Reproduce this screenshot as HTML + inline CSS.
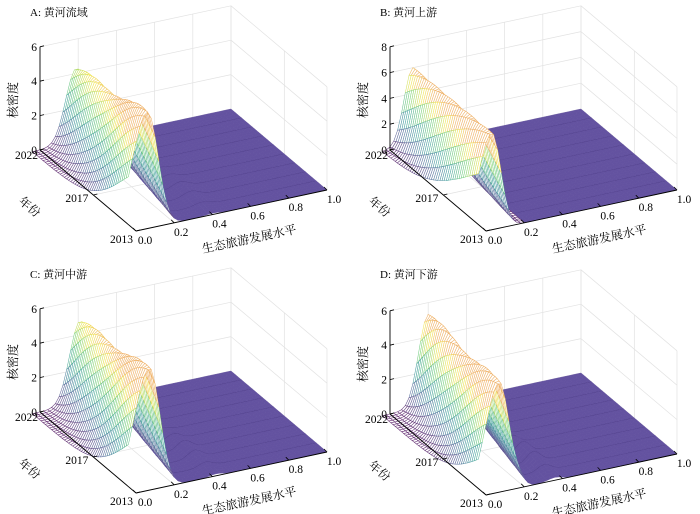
<!DOCTYPE html>
<html><head><meta charset="utf-8">
<style>
html,body{margin:0;padding:0;background:#fff;}
svg{display:block;font-family:"Liberation Serif","Noto Serif CJK SC",serif;}
</style></head>
<body>
<svg id="s" width="700" height="514" viewBox="0 0 700 514" xmlns="http://www.w3.org/2000/svg"></svg>
<script>
const S=document.getElementById('s');
let out='';
const VS=[[0,[68,1,84]],[0.22,[59,82,139]],[0.45,[33,145,140]],[0.68,[94,201,98]],[0.88,[240,225,50]],[1,[235,160,70]]];
function vir(v){v=Math.max(0,Math.min(1,v));for(let i=0;i<VS.length-1;i++){const a=VS[i],b=VS[i+1];if(v<=b[0]){const f=(v-a[0])/(b[0]-a[0]);const c=a[1].map((q,k)=>q+(b[1][k]-q)*f);const w=0.2;return 'rgb('+c.map(q=>Math.round(q*(1-w)+255*w)).join(',')+')';}}return 'rgb(235,160,70)';}
const panels=[
 {dx:0,oy:150,ty:12,title:'A: 黄河流域',zs:17.2,zt:[0,2,4,6],mu0:.19,pk0:4.3,mu1:.06,pk1:6.7,s:.055,bx:.4,bh:.35,bs:.04,rip:.03,r2:0},
 {dx:350,oy:150,ty:12,title:'B: 黄河上游',zs:12.9,zt:[0,2,4,6,8],mu0:.12,pk0:6.0,mu1:.03,pk1:7.5,s:.047,bx:.4,bh:0,bs:.04,rip:.0,r2:0},
 {dx:0,oy:412,ty:274,title:'C: 黄河中游',zs:17.2,zt:[0,2,4,6],mu0:.21,pk0:4.8,mu1:.07,pk1:7.0,s:.055,bx:.42,bh:.5,bs:.035,rip:.03,r2:0},
 {dx:350,oy:414,ty:274,title:'D: 黄河下游',zs:17.2,zt:[0,2,4,6],mu0:.2,pk0:5.3,mu1:.07,pk1:6.3,s:.05,bx:.36,bh:.7,bs:.035,rip:.03,r2:1.2}
];
function f(x,t,p){
 const mu=p.mu0+(p.mu1-p.mu0)*t;
 let pk=(p.pk0+(p.pk1-p.pk0)*t)*(1+p.rip*Math.sin(t*9));
 const s=x<mu?p.s*(1+0.5*t):p.s;
 let z=pk*Math.exp(-(x-mu)*(x-mu)/(2*s*s));
 if(p.r2) z+=p.r2*(1-t*0.6)*Math.exp(-(x-(mu+0.1))*(x-(mu+0.1))/(2*0.03*0.03));
 z+=p.bh*Math.exp(-(x-p.bx)*(x-p.bx)/(2*p.bs*p.bs))*(0.6+0.4*Math.cos(t*9));
 return z;
}
panels.forEach(p=>{
 const ox=40+p.dx, oy=p.oy, zs=p.zs, ztop=p.zt[p.zt.length-1];
 const P=(x,t,z)=>[ox+191*x+96*t, oy-41*x+81*t-zs*z];
 const pt=a=>a[0].toFixed(1)+','+a[1].toFixed(1);
 const g='#e2e2e2';
 for(const x of [0,.2,.4,.6,.8,1]) out+=`<line x1="${P(x,0,0)[0]}" y1="${P(x,0,0)[1]}" x2="${P(x,0,ztop)[0]}" y2="${P(x,0,ztop)[1]}" stroke="${g}" stroke-width="0.7"/>`;
 for(const z of p.zt) out+=`<line x1="${P(0,0,z)[0]}" y1="${P(0,0,z)[1]}" x2="${P(1,0,z)[0]}" y2="${P(1,0,z)[1]}" stroke="${g}" stroke-width="0.7"/>`;
 for(const t of [0,5/9,1]) out+=`<line x1="${P(1,t,0)[0]}" y1="${P(1,t,0)[1]}" x2="${P(1,t,ztop)[0]}" y2="${P(1,t,ztop)[1]}" stroke="${g}" stroke-width="0.7"/>`;
 for(const z of p.zt) out+=`<line x1="${P(1,0,z)[0]}" y1="${P(1,0,z)[1]}" x2="${P(1,1,z)[0]}" y2="${P(1,1,z)[1]}" stroke="${g}" stroke-width="0.7"/>`;
 for(const x of [.2,.4,.6,.8]) out+=`<line x1="${P(x,0,0)[0]}" y1="${P(x,0,0)[1]}" x2="${P(x,1,0)[0]}" y2="${P(x,1,0)[1]}" stroke="${g}" stroke-width="0.7"/>`;
 out+=`<line x1="${P(0,5/9,0)[0]}" y1="${P(0,5/9,0)[1]}" x2="${P(1,5/9,0)[0]}" y2="${P(1,5/9,0)[1]}" stroke="${g}" stroke-width="0.7"/>`;
 const NX=52, NT=45, x0=-0.04, x1=1.0;
 const Z=[];let zmax=0;
 for(let j=0;j<=NT;j++){Z[j]=[];for(let i=0;i<=NX;i++){const x=x0+(x1-x0)*i/NX;const z=f(x,j/NT,p);Z[j][i]=z;if(z>zmax)zmax=z;}}
 const quads=[];
 for(let j=0;j<NT;j++)for(let i=0;i<NX;i++){
  const xa=x0+(x1-x0)*i/NX, xb=x0+(x1-x0)*(i+1)/NX, ta=j/NT, tb=(j+1)/NT;
  const key=oy-41*(xa+xb)/2+81*(ta+tb)/2;
  quads.push([key,i,j,xa,xb,ta,tb]);
 }
 quads.sort((a,b)=>a[0]-b[0]);
 for(const q of quads){
  const [k,i,j,xa,xb,ta,tb]=q;
  const za=Z[j][i],zb=Z[j][i+1],zc=Z[j+1][i+1],zd=Z[j+1][i];
  const zm=Math.max(za,zb,zc,zd), zav=(za+zb+zc+zd)/4;
  const d='M'+pt(P(xa,ta,za))+'L'+pt(P(xb,ta,zb))+'L'+pt(P(xb,tb,zc))+'L'+pt(P(xa,tb,zd))+'Z';
  if(zm>0.9 || xa<0.2){
   out+=`<path d="${d}" fill="#fff" stroke="${vir(zav/(zmax*0.8))}" stroke-width="0.55"/>`;
  } else {
   out+=`<path d="${d}" fill="#6352a0" stroke="#6352a0" stroke-width="0.4"/>`;
   if((j+1)%5===0 && j+1<NT) out+=`<path d="M${pt(P(xa,tb,zd))}L${pt(P(xb,tb,zc))}" stroke="#3b2c6e" stroke-width="0.6"/>`;
  }
 }
 out+=`<line x1="${ox}" y1="${oy}" x2="${ox}" y2="${P(0,0,ztop)[1]}" stroke="#000" stroke-width="0.9"/>`;
 out+=`<line x1="${ox}" y1="${oy}" x2="${P(0,1,0)[0]}" y2="${P(0,1,0)[1]}" stroke="#000" stroke-width="0.9"/>`;
 out+=`<line x1="${P(0,1,0)[0]}" y1="${P(0,1,0)[1]}" x2="${P(1,1,0)[0]}" y2="${P(1,1,0)[1]}" stroke="#000" stroke-width="0.9"/>`;
 for(const z of p.zt){const a=P(0,0,z);out+=`<line x1="${a[0]}" y1="${a[1]}" x2="${a[0]+4}" y2="${a[1]-1}" stroke="#000" stroke-width="0.8"/><text x="${a[0]-3}" y="${a[1]+4}" font-size="11.5" text-anchor="end">${z}</text>`;}
 for(const x of [0,.2,.4,.6,.8,1]){const a=P(x,1,0);out+=`<line x1="${a[0]}" y1="${a[1]}" x2="${a[0]-3}" y2="${a[1]-3}" stroke="#000" stroke-width="0.8"/><text x="${a[0]+(x==0?9:7)}" y="${a[1]+13}" font-size="11.5" text-anchor="middle">${x.toFixed(1)}</text>`;}
 for(const [t,l] of [[0,'2022'],[5/9,'2017'],[1,'2013']]){const a=P(0,t,0);out+=`<line x1="${a[0]}" y1="${a[1]}" x2="${a[0]+4}" y2="${a[1]-1}" stroke="#000" stroke-width="0.8"/><text x="${a[0]-(t==0?2:t==1?3:5)}" y="${a[1]+(t==0?9:t==1?12:7)}" font-size="11.5" text-anchor="end">${l}</text>`;}
 out+=`<text x="${p.dx+30}" y="${p.ty+4}" font-size="11">${p.title}</text>`;
 out+=`<text transform="translate(${ox-23},${oy-50}) rotate(-90)" font-size="12" text-anchor="middle">核密度</text>`;
 out+=`<text transform="translate(${ox-13},${oy+60}) rotate(40)" font-size="12" text-anchor="middle">年份</text>`;
 out+=`<text transform="translate(${ox+210},${oy+93}) rotate(-12)" font-size="12" text-anchor="middle">生态旅游发展水平</text>`;
});
S.innerHTML=out;
</script>
</body></html>
